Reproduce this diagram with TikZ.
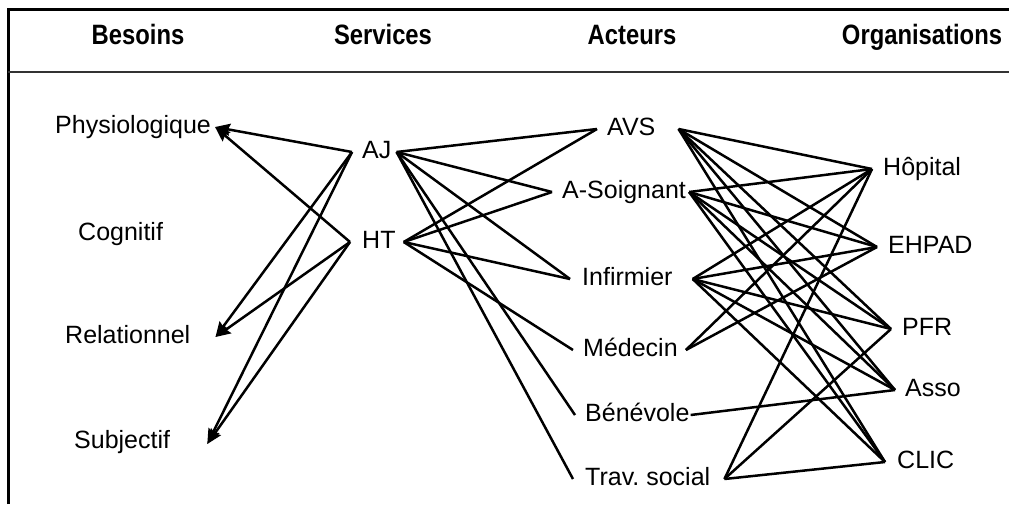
\documentclass[tikz,border=0pt]{standalone}
\usepackage{fontspec}
\setmainfont{Liberation Sans}
\usetikzlibrary{arrows.meta}
\frenchspacing
\begin{document}
\begin{tikzpicture}[x=1pt,y=-1pt,
 lbl/.style={inner sep=0pt, font=\fontsize{25}{30}\selectfont, text height=18pt, text depth=5pt, anchor=west},
 hdr/.style={inner sep=0pt, font=\fontsize{28}{32}\selectfont\bfseries, anchor=base},
 link/.style={line width=2.5pt, line join=miter},
 arr/.style={link, -{Stealth[length=15pt,width=12pt,inset=2pt]}}]
\useasboundingbox (0,0) rectangle (1009,504);
% frame
\draw[line width=3pt] (8,504) -- (8,9) -- (1009,9);
\draw[line width=1.6pt, black!80] (8,72) -- (1009,72);
% headers
\node[hdr] (hB) at (138,44) {\scalebox{0.85}[1]{Besoins}};
\node[hdr] (hS) at (383,44) {\scalebox{0.85}[1]{Services}};
\node[hdr] (hA) at (632,44) {\scalebox{0.85}[1]{Acteurs}};
\node[hdr] (hO) at (922,44) {\scalebox{0.85}[1]{Organisations}};
% besoins
\node[lbl] (phys) at (55,127) {Physiologique};
\node[lbl] (cog)  at (78,234) {Cognitif};
\node[lbl] (rel)  at (65,337) {Relationnel};
\node[lbl] (subj) at (74,442) {Subjectif};
% services
\node[lbl] (aj) at (362,152) {AJ};
\node[lbl] (ht) at (362,242) {HT};
% acteurs
\node[lbl] (avs) at (607,129) {AVS};
\node[lbl] (aso) at (562,192) {A-Soignant};
\node[lbl] (inf) at (582,279) {Infirmier};
\node[lbl] (med) at (583,350) {Médecin};
\node[lbl] (ben) at (585,415) {Bénévole};
\node[lbl] (trav) at (585,479) {Trav. social};
% organisations
\node[lbl] (hop)  at (883,169) {Hôpital};
\node[lbl] (ehp)  at (888,247) {EHPAD};
\node[lbl] (pfr)  at (902,329) {PFR};
\node[lbl] (asso) at (905,390) {Asso};
\node[lbl] (clic) at (897,462) {CLIC};
% ports
\coordinate (physP) at ([xshift=4pt]phys.east);
\coordinate (relP)  at ([xshift=25pt]rel.east);
\coordinate (subjP) at ([xshift=37pt,yshift=-2pt]subj.east);
\coordinate (ajL) at ([xshift=-10pt]aj.west);
\coordinate (ajR) at ([xshift=5pt]aj.east);
\coordinate (htL) at ([xshift=-12pt]ht.west);
\coordinate (htR) at ([xshift=8pt]ht.east);
\coordinate (avsL) at ([xshift=-10pt]avs.west);
\coordinate (avsR) at ([xshift=23pt]avs.east);
\coordinate (asoL) at ([xshift=-10pt]aso.west);
\coordinate (asoR) at ([xshift=3pt]aso.east);
\coordinate (infL) at ([xshift=-12pt]inf.west);
\coordinate (infR) at ([xshift=20pt]inf.east);
\coordinate (medL) at ([xshift=-10pt]med.west);
\coordinate (medR) at ([xshift=8pt]med.east);
\coordinate (benL) at ([xshift=-10pt]ben.west);
\coordinate (benR) at ([xshift=1pt]ben.east);
\coordinate (travL) at ([xshift=-12pt]trav.west);
\coordinate (travR) at ([xshift=14pt]trav.east);
\coordinate (hopL)  at ([xshift=-11pt]hop.west);
\coordinate (ehpL)  at ([xshift=-11pt]ehp.west);
\coordinate (pfrL)  at ([xshift=-11pt]pfr.west);
\coordinate (assoL) at ([xshift=-10pt]asso.west);
\coordinate (clicL) at ([xshift=-12pt]clic.west);
% services -> besoins
\draw[arr] (ajL) -- (physP);
\draw[arr] (htL) -- (physP);
\draw[arr] (ajL) -- (relP);
\draw[arr] (ajL) -- (subjP);
\draw[arr] (htL) -- (relP);
\draw[arr] (htL) -- (subjP);
% services -- acteurs
\foreach \t in {avsL,asoL,infL,benL,travL} \draw[link] (ajR) -- (\t);
\foreach \t in {avsL,asoL,infL,medL} \draw[link] (htR) -- (\t);
% acteurs -- organisations
\foreach \t in {hopL,ehpL,pfrL,assoL,clicL} {
  \draw[link] (avsR) -- (\t);
  \draw[link] (asoR) -- (\t);
  \draw[link] (infR) -- (\t);
}
\foreach \t in {hopL,ehpL} \draw[link] (medR) -- (\t);
\draw[link] (benR) -- (assoL);
\foreach \t in {hopL,pfrL,clicL} \draw[link] (travR) -- (\t);
\end{tikzpicture}
\end{document}
